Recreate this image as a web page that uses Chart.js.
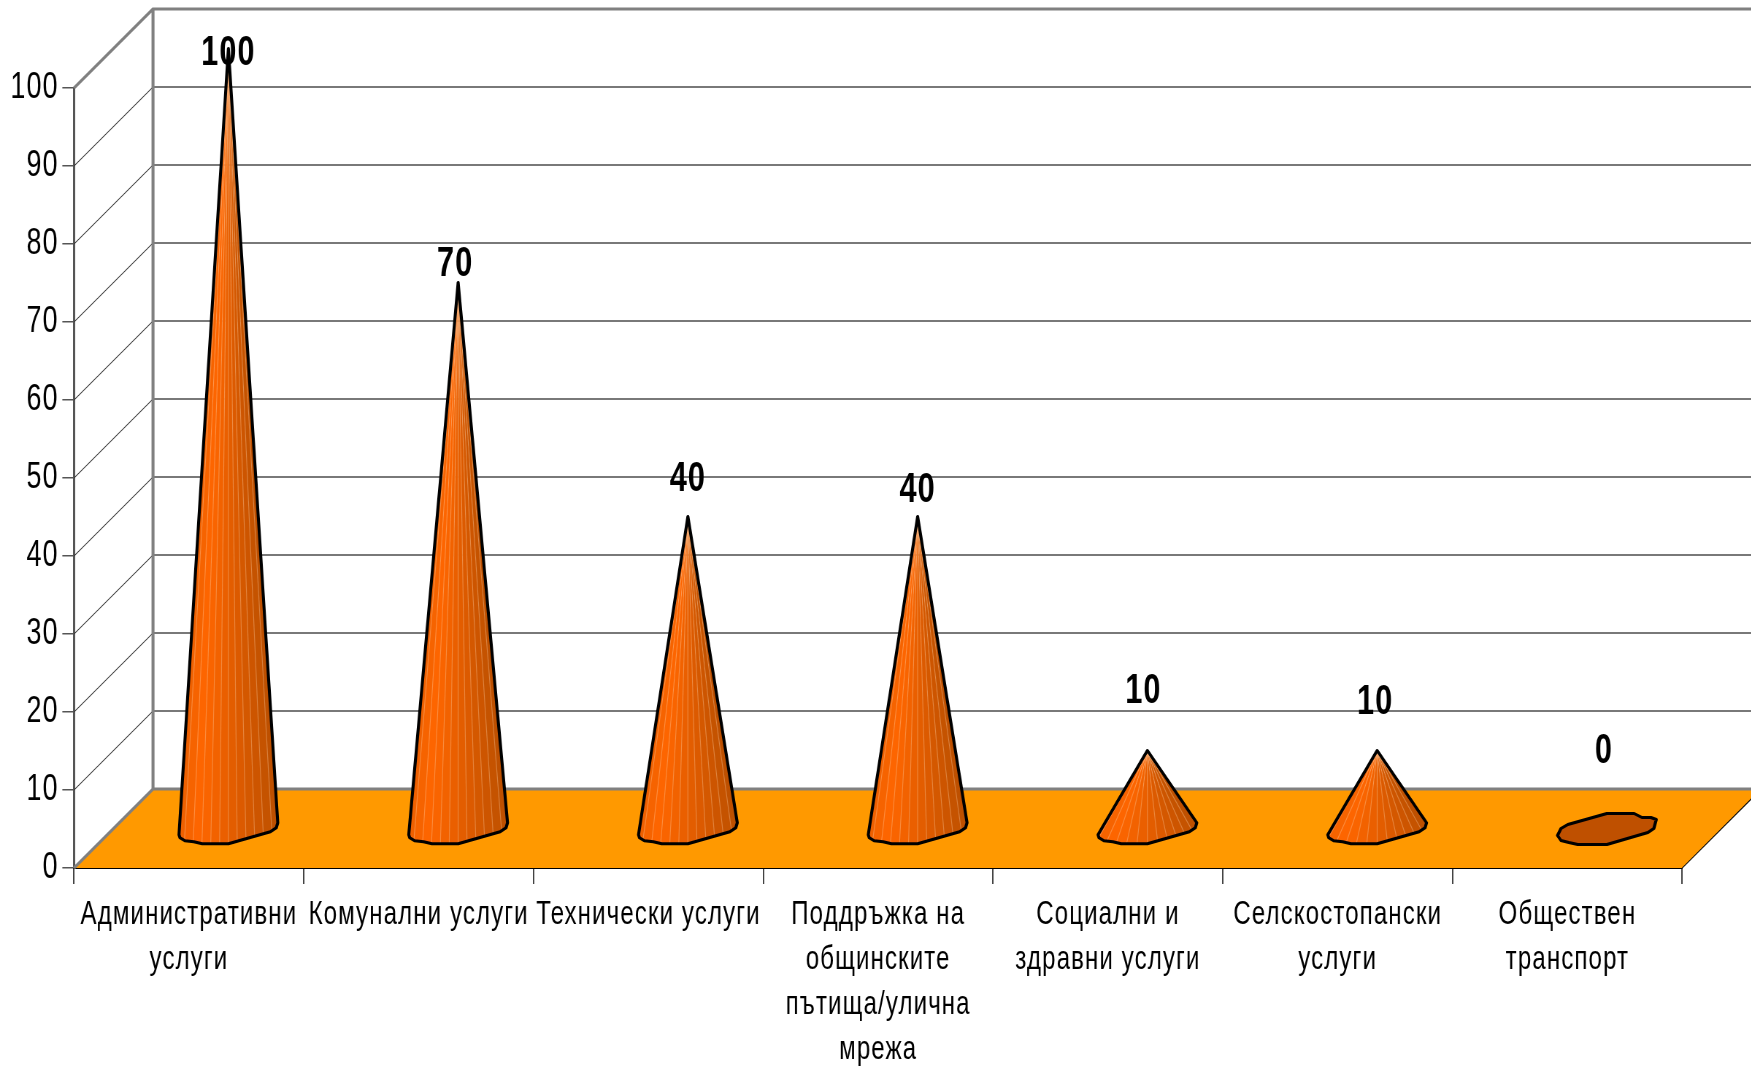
<!DOCTYPE html>
<html>
<head>
<meta charset="utf-8">
<script src="https://cdn.jsdelivr.net/npm/chart.js@4/dist/chart.umd.min.js"></script>
<style>
html, body { margin: 0; padding: 0; background: #fff; overflow: hidden; }
#wrap { width: 1751px; height: 1066px; overflow: hidden; }
/* the original is a squeezed picture, so the whole canvas is squeezed sideways */
#chart { transform: scaleX(0.73); transform-origin: 0 0; }
</style>
</head>
<body>
<div id="wrap"><canvas id="chart" width="2399" height="1066"></canvas></div>
<script>
const categories = [
    ['Административни', 'услуги'],
    ['Комунални услуги'],
    ['Технически услуги'],
    ['Поддръжка на', 'общинските', 'пътища/улична', 'мрежа'],
    ['Социални и', 'здравни услуги'],
    ['Селскостопански', 'услуги'],
    ['Обществен', 'транспорт']
];
const values = [100, 70, 40, 40, 10, 10, 0];
const yTickStep = 10;

// look of the fake 3d box
const SX = 0.73;
const DEPTH_Y = 79;
const DEPTH_X = 79 / SX;
const labelNudge = [[0, 5], [-3, -18], [0, -37], [0, -26], [-4, -59], [-2, -48], [-3, -77]];
// cone foot outline, x is share of half width, y in px from the foot centre
const footFront = [[-1, 7], [-0.98, 10], [-0.88, 13], [-0.7, 14], [-0.53, 16], [0, 16], [0.85, 4], [0.97, 0], [1, -5]];
const footFull = [[-1, 7], [-0.93, 0], [-0.79, -4], [0, -15], [0.55, -15], [0.71, -11], [0.89, -11], [1, -9],
    [0.95, 0], [0.83, 4], [0, 16], [-0.59, 16], [-0.77, 14], [-0.93, 12]];

function shade(t) {
    // bright orange a bit left of the middle, dark brown orange on the right
    const edge = [238, 96, 0], a = [255, 102, 0], b = [190, 80, 0];
    if (t < 0.2) return 'rgb(' + edge.map((c, i) => Math.round(c + (a[i] - c) * t / 0.2)).join(',') + ')';
    const k = (t - 0.2) / 0.8;
    return 'rgb(' + a.map((c, i) => Math.round(c + (b[i] - c) * k)).join(',') + ')';
}

// stroke the current path with a pen that stays round after the squeeze
function pen(c, color, width) {
    c.save();
    c.scale(1 / SX, 1);
    c.strokeStyle = color;
    c.lineWidth = width;
    c.stroke();
    c.restore();
}

const box3d = {
    id: 'box3d',
    beforeDraw(chart) {
        chart.ctx.letterSpacing = '1.5px';
    },
    beforeDatasetsDraw(chart) {
        const c = chart.ctx, x = chart.scales.x, y = chart.scales.y;
        const left = x.left, right = x.right, y0 = y.getPixelForValue(0), yTop = y.getPixelForValue(100);
        const w = chart.width;
        c.save();
        // floor
        c.fillStyle = '#ff9900';
        c.beginPath();
        c.moveTo(left, y0);
        c.lineTo(left + DEPTH_X, y0 - DEPTH_Y);
        c.lineTo(right + DEPTH_X, y0 - DEPTH_Y);
        c.lineTo(right, y0);
        c.closePath();
        c.fill();
        c.beginPath();
        c.moveTo(right, y0);
        c.lineTo(right + DEPTH_X, y0 - DEPTH_Y);
        pen(c, '#000', 1);
        // grid on side and back wall
        y.ticks.forEach(t => {
            if (t.value === 0 || t.value === 100) return;
            const py = y.getPixelForValue(t.value);
            c.beginPath();
            c.moveTo(left, py);
            c.lineTo(left + DEPTH_X, py - DEPTH_Y);
            pen(c, '#333', 1);
        });
        y.ticks.forEach(t => {
            if (t.value === 0 || t.value === 100) return;
            const py = y.getPixelForValue(t.value) - DEPTH_Y;
            c.beginPath();
            c.moveTo(left + DEPTH_X, py);
            c.lineTo(w, py);
            pen(c, '#4d4d4d', 1.5);
        });
        // wall frame
        c.beginPath();
        c.moveTo(left, yTop);
        c.lineTo(left + DEPTH_X, yTop - DEPTH_Y);
        c.lineTo(w, yTop - DEPTH_Y);
        c.moveTo(left + DEPTH_X, yTop - DEPTH_Y);
        c.lineTo(left + DEPTH_X, y0 - DEPTH_Y);
        c.lineTo(w, y0 - DEPTH_Y);
        c.moveTo(left + DEPTH_X, y0 - DEPTH_Y);
        c.lineTo(left, y0);
        pen(c, '#808080', 3);
        c.restore();
    },
    afterDatasetsDraw(chart) {
        const c = chart.ctx, meta = chart.getDatasetMeta(0);
        c.save();
        // value labels go under the cones
        c.fillStyle = '#000';
        c.font = 'bold 42px "Liberation Sans"';
        c.textAlign = 'center';
        c.textBaseline = 'middle';
        meta.data.forEach((bar, i) => {
            const cx = bar.x + DEPTH_X / 2, apex = bar.y - DEPTH_Y / 2;
            c.fillText(String(values[i]), cx + labelNudge[i][0] / SX, apex + labelNudge[i][1]);
        });
        meta.data.forEach((bar, i) => {
            const cx = bar.x + DEPTH_X / 2, foot = bar.base - DEPTH_Y / 2, apex = bar.y - DEPTH_Y / 2, half = bar.width / 2;
            c.lineJoin = 'round';
            if (values[i] === 0) {
                c.beginPath();
                footFull.forEach((p, k) => {
                    const px = cx + p[0] * half, py = foot + p[1];
                    if (k === 0) c.moveTo(px, py); else c.lineTo(px, py);
                });
                c.closePath();
                c.fillStyle = '#bf5000';
                c.fill();
                pen(c, '#000', 3);
                return;
            }
            const outline = () => {
                c.beginPath();
                c.moveTo(cx, apex);
                footFront.forEach(p => c.lineTo(cx + p[0] * half, foot + p[1]));
                c.closePath();
            };
            c.save();
            outline();
            c.clip();
            // facets fanned out from the tip, run past the foot so short cones are filled too
            const n = 12;
            const low = foot + 30, reach = (low - apex) / (foot - apex) * 1.05;
            for (let k = 0; k < n; k++) {
                c.fillStyle = shade(k / (n - 1));
                const x0 = cx + (-half + 2 * half * k / n) * reach, x1 = cx + (-half + 2 * half * (k + 1) / n) * reach;
                c.beginPath();
                c.moveTo(cx, apex);
                c.lineTo(x0 - 0.5, low);
                c.lineTo(x1 + 0.5, low);
                c.closePath();
                c.fill();
            }
            for (let k = 1; k < n; k++) {
                const x1 = cx + (-half + 2 * half * k / n) * reach;
                c.strokeStyle = 'rgba(255,200,150,0.4)';
                c.lineWidth = 1.2;
                c.beginPath();
                c.moveTo(cx, apex);
                c.lineTo(x1, low);
                c.stroke();
            }
            c.restore();
            outline();
            pen(c, '#000', 3);
        });
        c.restore();
    }
};

new Chart(document.getElementById('chart'), {
    type: 'bar',
    data: {
        labels: categories,
        datasets: [{
            data: values,
            backgroundColor: 'rgba(0,0,0,0)',
            borderWidth: 0,
            categoryPercentage: 1,
            barPercentage: 0.43
        }]
    },
    plugins: [box3d],
    options: {
        responsive: false,
        animation: false,
        devicePixelRatio: 1,
        layout: { padding: { top: 88, right: 69 / SX, left: 0, bottom: 0 } },
        plugins: { legend: { display: false }, title: { display: false }, tooltip: { enabled: false } },
        scales: {
            x: {
                offset: true,
                afterFit(s) { s.height = 198; },
                border: { color: '#000', width: 2 },
                grid: { offset: true, drawOnChartArea: false, tickLength: 16, color: '#444', lineWidth: 2 },
                ticks: {
                    color: '#000',
                    maxRotation: 0,
                    minRotation: 0,
                    autoSkip: false,
                    padding: 8,
                    font: { family: '"Liberation Sans"', size: 33, lineHeight: 1.37 }
                }
            },
            y: {
                min: 0,
                max: 100,
                afterFit(s) { s.width = 74 / SX; },
                border: { color: '#555', width: 3 },
                grid: { drawOnChartArea: false, tickLength: 16, color: '#555', lineWidth: 1.5 },
                ticks: {
                    stepSize: yTickStep,
                    color: '#000',
                    padding: 5,
                    font: { family: '"Liberation Sans"', size: 37 }
                }
            }
        }
    }
});
</script>
</body>
</html>
